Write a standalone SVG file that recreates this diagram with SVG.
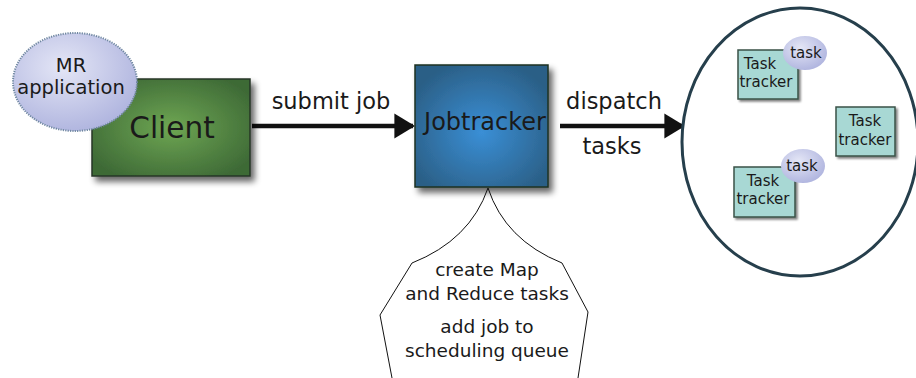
<svg xmlns="http://www.w3.org/2000/svg" width="916" height="378" viewBox="0 0 916 378">
<style>
text { font-family: "DejaVu Sans", "Liberation Sans", sans-serif; fill: #1a1a1a; text-anchor: middle; }
.tt { fill: #a8d8d4; stroke: #3a5248; stroke-width: 1.5; }
.bub { fill: url(#bubG); }
.lbl { font-size: 22.5px; }
.cl { font-size: 18.5px; }
.tk { font-size: 15px; }
</style>
<defs>
<radialGradient id="greenG" cx="0.5" cy="0.5" r="0.6">
<stop offset="0" stop-color="#6ea653"/>
<stop offset="1" stop-color="#3e6a36"/>
</radialGradient>
<radialGradient id="blueG" cx="0.5" cy="0.55" r="0.6">
<stop offset="0" stop-color="#3a8fd6"/>
<stop offset="1" stop-color="#2b5f86"/>
</radialGradient>
<radialGradient id="bubG" cx="0.4" cy="0.35" r="0.7">
<stop offset="0" stop-color="#e4e6f6"/>
<stop offset="1" stop-color="#aeb3de"/>
</radialGradient>
<filter id="sh" x="-20%" y="-20%" width="150%" height="150%">
<feGaussianBlur in="SourceAlpha" stdDeviation="3"/>
<feOffset dx="4" dy="5"/>
<feComponentTransfer><feFuncA type="linear" slope="0.6"/></feComponentTransfer>
<feMerge><feMergeNode/><feMergeNode in="SourceGraphic"/></feMerge>
</filter>
<filter id="sh2" x="-20%" y="-20%" width="150%" height="150%">
<feGaussianBlur in="SourceAlpha" stdDeviation="1.2"/>
<feOffset dx="2" dy="2"/>
<feComponentTransfer><feFuncA type="linear" slope="0.5"/></feComponentTransfer>
<feMerge><feMergeNode/><feMergeNode in="SourceGraphic"/></feMerge>
</filter>
<marker id="ah" viewBox="0 0 10 12" refX="9" refY="6" markerWidth="4.6" markerHeight="5.6" orient="auto" markerUnits="strokeWidth">
<path d="M0,0 L10,6 L0,12 z" fill="#111"/>
</marker>
</defs>

<g id="connectors" stroke="#111" stroke-width="4.5" fill="none">
<line x1="252" y1="126" x2="413" y2="126" marker-end="url(#ah)"/>
<line x1="560" y1="126" x2="683" y2="126" marker-end="url(#ah)"/>
</g>

<g id="client">
<rect x="92" y="79" width="158" height="97" fill="url(#greenG)" stroke="#263626" stroke-width="1.5" filter="url(#sh)"/>
<text x="172" y="138" font-size="29.5">Client</text>
</g>

<g id="mr-application">
<ellipse cx="75" cy="82" rx="62" ry="49" class="bub" stroke="#6f87a0" stroke-width="2" stroke-dasharray="1.2 1.2"/>
<text x="71" y="72" font-size="19.5">MR</text>
<text x="71" y="94" font-size="19.5">application</text>
</g>

<g id="jobtracker">
<rect x="415" y="65" width="133" height="122" fill="url(#blueG)" stroke="#1e3020" stroke-width="1.5" filter="url(#sh)"/>
<text x="485" y="130" font-size="24">Jobtracker</text>
</g>

<g id="label-submit">
<text x="331" y="109" class="lbl">submit job</text>
</g>
<g id="label-dispatch">
<text x="614" y="109" class="lbl">dispatch</text>
<text x="612" y="154" class="lbl">tasks</text>
</g>

<g id="callout">
<path d="M392,378 L380,315 L412,263 Q470,240 488,188 Q505,240 562,263 L588,312 L578,378" fill="none" stroke="#111" stroke-width="1"/>
<text x="487" y="276" class="cl">create Map</text>
<text x="487" y="300" class="cl">and Reduce tasks</text>
<text x="487" y="333" class="cl">add job to</text>
<text x="487" y="357" class="cl">scheduling queue</text>
</g>

<g id="cluster">
<ellipse cx="800" cy="142" rx="118" ry="134" fill="#fff" stroke="#263f4c" stroke-width="3"/>
</g>

<g id="tasktracker1">
<rect x="738" y="50" width="60" height="49" class="tt" filter="url(#sh2)"/>
<text x="760" y="69" class="tk">Task</text>
<text x="766" y="87" class="tk">tracker</text>
</g>
<g id="task1">
<ellipse cx="805" cy="53" rx="22" ry="17" class="bub"/>
<text x="806" y="58" class="tk">task</text>
</g>

<g id="tasktracker2">
<rect x="836" y="107" width="59" height="49" class="tt" filter="url(#sh2)"/>
<text x="865" y="126" class="tk">Task</text>
<text x="865" y="145" class="tk">tracker</text>
</g>

<g id="tasktracker3">
<rect x="734" y="167" width="61" height="50" class="tt" filter="url(#sh2)"/>
<text x="763" y="186" class="tk">Task</text>
<text x="763" y="204" class="tk">tracker</text>
</g>
<g id="task3">
<ellipse cx="803" cy="166" rx="22" ry="17" class="bub"/>
<text x="802" y="171" class="tk">task</text>
</g>
</svg>
